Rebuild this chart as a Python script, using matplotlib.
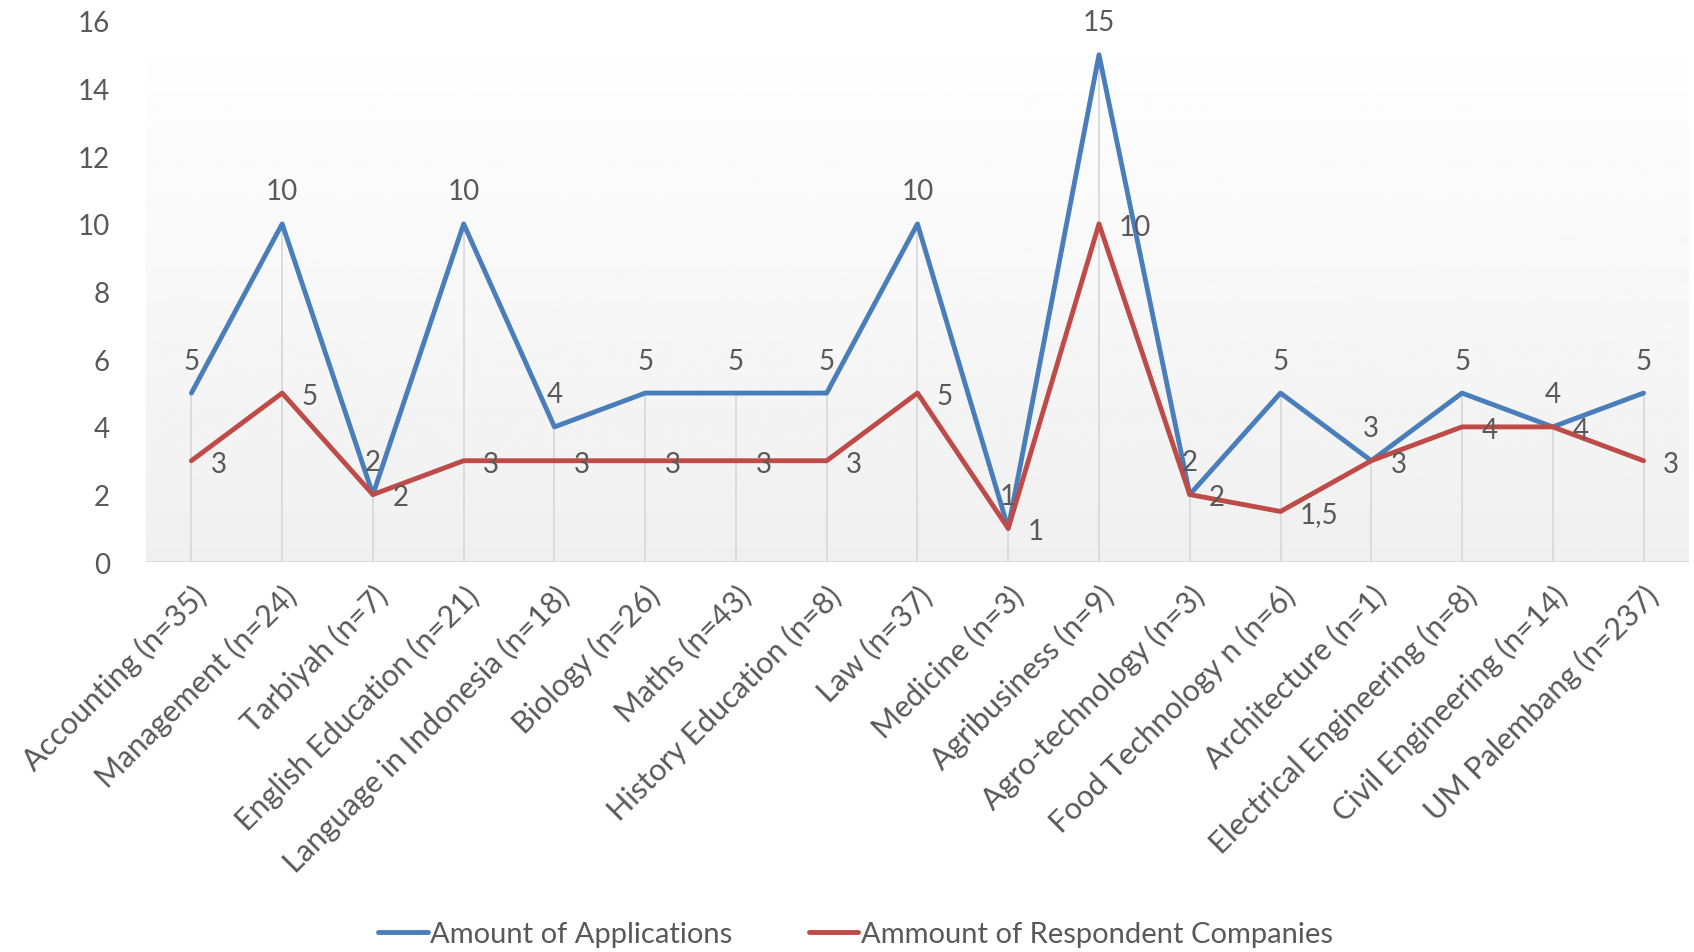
"""Applications vs respondent companies per study programme."""
import matplotlib.pyplot as plt
import numpy as np

plt.rcParams['font.family'] = ['Lato', 'DejaVu Sans']

categories = ['Accounting (n=35)', 'Management (n=24)', 'Tarbiyah (n=7)',
              'English Education (n=21)', 'Language in Indonesia (n=18)',
              'Biology (n=26)', 'Maths (n=43)', 'History Education (n=8)',
              'Law (n=37)', 'Medicine (n=3)', 'Agribusiness (n=9)',
              'Agro-technology (n=3)', 'Food Technology n (n=6)',
              'Architecture (n=1)', 'Electrical Engineering (n=8)',
              'Civil Engineering (n=14)', 'UM Palembang (n=237)']
applications = [5, 10, 2, 10, 4, 5, 5, 5, 10, 1, 15, 2, 5, 3, 5, 4, 5]
respondents = [3, 5, 2, 3, 3, 3, 3, 3, 5, 1, 10, 2, 1.5, 3, 4, 4, 3]
yticks = [0, 2, 4, 6, 8, 10, 12, 14, 16]

blue = '#4a7ebb'
red = '#be4b48'
text_col = '#595959'

fig = plt.figure(figsize=(16.94, 9.53), dpi=100)
ax = fig.add_axes([0.0862, 0.409, 0.9108, 0.568])

x = np.arange(len(categories))

# gradient background (white at top -> light grey at bottom)
grad = np.linspace(1.0, 0.94, 256).reshape(-1, 1)
ax.imshow(grad, cmap='gray', vmin=0, vmax=1, aspect='auto',
          extent=[-0.5, len(categories) - 0.5, 0, 16], origin='upper', zorder=0)

# drop lines
tops = np.maximum(applications, respondents)
ax.vlines(x, 0, tops, color='#d9d9d9', linewidth=1.3, zorder=1)
ax.axhline(0, color='#d9d9d9', linewidth=2, zorder=1)

ax.plot(x, applications, color=blue, linewidth=3.5, label='Amount of Applications',
        zorder=3, solid_capstyle='round')
ax.plot(x, respondents, color=red, linewidth=3.5,
        label='Ammount of Respondent Companies', zorder=3, solid_capstyle='round')

def fmt(v):
    return str(v).replace('.', ',') if v % 1 else str(int(v))

for xi, v in zip(x, applications):
    ax.annotate(fmt(v), (xi, v), textcoords='offset points', xytext=(0, 14),
                ha='center', va='bottom', fontsize=20, color=text_col, zorder=4)
for xi, v in zip(x, respondents):
    ax.annotate(fmt(v), (xi, v), textcoords='offset points', xytext=(14, -2),
                ha='left', va='center', fontsize=20, color=text_col, zorder=4)

ax.set_xlim(-0.5, len(categories) - 0.5)
ax.set_ylim(0, 16)
ax.set_yticks(yticks)
ax.set_xticks(x)
ax.set_xticklabels(categories, rotation=45, ha='right', va='top',
                   rotation_mode='anchor', fontsize=22, color=text_col)
ax.tick_params(axis='y', length=0, pad=26, labelsize=20, labelcolor=text_col)
ax.tick_params(axis='x', length=0, pad=13)
for s in ax.spines.values():
    s.set_visible(False)

fig.legend(loc='center', bbox_to_anchor=(0.505, 0.019), ncol=2, frameon=False,
           fontsize=21, labelcolor=text_col, handlelength=1.7, handletextpad=0.1,
           columnspacing=2.6)

fig.savefig('out.png', dpi=100)
